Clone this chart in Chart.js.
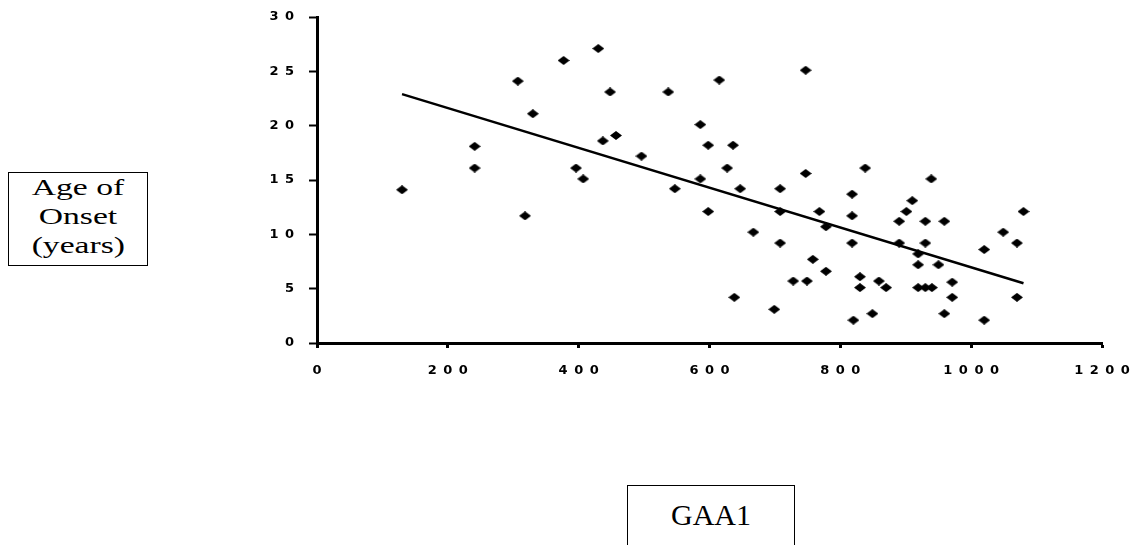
<!DOCTYPE html>
<html>
<head>
<meta charset="utf-8">
<script src="https://cdn.jsdelivr.net/npm/chart.js@4/dist/chart.umd.min.js"></script>
<style>
  body { margin: 0; background: #fff; }
  #wrap { position: relative; width: 1130px; height: 545px; overflow: hidden; }
  #chart { position: absolute; left: 0; top: 0; }
  .box {
    position: absolute; border: 1.5px solid #000; box-sizing: border-box;
    font-family: "Liberation Serif", "Times New Roman", serif; color: #000;
    text-align: center; background: #fff;
  }
  #ylab { left: 8px; top: 172px; width: 140px; height: 94px; font-size: 24px; line-height: 29px; padding-top: 0px; }
  #ylab span { display: inline-block; transform: scaleX(1.4); }
  #xlab { left: 627px; top: 485px; width: 168px; height: 70px; font-size: 30px; line-height: 34px; padding-top: 12px; }
</style>
</head>
<body>
<div id="wrap">
  <canvas id="chart" width="1130" height="545"></canvas>
  <div class="box" id="ylab"><span>Age of</span><br><span>Onset</span><br><span>(years)</span></div>
  <div class="box" id="xlab">GAA1</div>
</div>
<script>
// GAA1 repeat length vs age of onset
var gaa1 = [130, 241, 241, 307, 318, 330, 377, 396, 407, 430, 437, 448, 457, 496, 537, 547,
    586, 586, 598, 598, 615, 627, 636, 638, 647, 667, 699, 708, 708, 708, 728, 747, 747, 749,
    758, 768, 778, 778, 818, 818, 818, 820, 830, 830, 838, 849, 859, 870, 890, 890, 901, 910,
    919, 919, 919, 930, 930, 930, 939, 940, 950, 959, 959, 971, 971, 1020, 1020, 1049, 1070,
    1070, 1080];
var onset = [14.1, 18.1, 16.1, 24.1, 11.7, 21.1, 26, 16.1, 15.1, 27.1, 18.6, 23.1, 19.1, 17.2, 23.1, 14.2,
    20.1, 15.1, 18.2, 12.1, 24.2, 16.1, 18.2, 4.2, 14.2, 10.2, 3.1, 14.2, 12.1, 9.2, 5.7, 25.1, 15.6, 5.7,
    7.7, 12.1, 10.7, 6.6, 13.7, 11.7, 9.2, 2.1, 6.1, 5.1, 16.1, 2.7, 5.7, 5.1, 11.2, 9.2, 12.1, 13.1,
    8.2, 7.2, 5.1, 11.2, 9.2, 5.1, 15.1, 5.1, 7.2, 11.2, 2.7, 5.6, 4.2, 8.6, 2.1, 10.2, 9.2,
    4.2, 12.1];
// fitted trend line end points
var trendX = [130, 1080];
var trendY = [22.9, 5.5];
var xTicks = [0, 200, 400, 600, 800, 1000, 1200];
var yTicks = [0, 5, 10, 15, 20, 25, 30];

var pts = gaa1.map(function (x, i) { return { x: x, y: onset[i] }; });
var trend = trendX.map(function (x, i) { return { x: x, y: trendY[i] }; });

// flattened diamond marker
var mark = document.createElement('canvas');
mark.width = 12; mark.height = 9;
var mc = mark.getContext('2d');
mc.fillStyle = '#000';
mc.beginPath();
mc.moveTo(0, 4.5); mc.lineTo(6, 0); mc.lineTo(12, 4.5); mc.lineTo(6, 9);
mc.closePath(); mc.fill();

function spaced(v) {
    return String(v).split('').join('\u2002');
}

var ctx = document.getElementById('chart');
var chart = new Chart(ctx, {
    type: 'scatter',
    data: {
        datasets: [{
            label: 'Patients',
            data: pts,
            pointStyle: mark,
            pointRadius: 5,
            pointHoverRadius: 5
        }, {
            label: 'Trend',
            data: trend,
            showLine: true,
            borderColor: '#000',
            borderWidth: 2.5,
            pointRadius: 0,
            pointHoverRadius: 0
        }]
    },
    options: {
        responsive: false,
        animation: false,
        layout: { padding: { left: 0, top: 17, right: 28, bottom: 0 } },
        plugins: { legend: { display: false }, tooltip: { enabled: false } },
        scales: {
            x: {
                type: 'linear',
                min: 0, max: 1200,
                afterBuildTicks: function (s) { s.ticks = xTicks.map(function (v) { return { value: v }; }); },
                afterFit: function (s) { s.height = 202; s.paddingLeft = 0; s.paddingRight = 0; },
                border: { color: '#000', width: 3 },
                grid: { drawOnChartArea: false, drawTicks: true, tickLength: 5, tickColor: '#000', tickWidth: 3 },
                ticks: {
                    color: '#000', padding: 15, maxRotation: 0,
                    font: { family: 'DejaVu Sans', size: 13, weight: 'bold' },
                    callback: function (v) { return spaced(v); }
                }
            },
            y: {
                type: 'linear',
                min: 0, max: 30,
                afterBuildTicks: function (s) { s.ticks = yTicks.map(function (v) { return { value: v }; }); },
                afterFit: function (s) { s.width = 317; s.paddingTop = 0; s.paddingBottom = 0; },
                border: { color: '#000', width: 3 },
                grid: { drawOnChartArea: false, drawTicks: true, tickLength: 8, tickColor: '#000', tickWidth: 2 },
                ticks: {
                    color: '#000', padding: 15,
                    font: { family: 'DejaVu Sans', size: 13, weight: 'bold' },
                    callback: function (v) { return spaced(v); }
                }
            }
        }
    }
});
</script>
</body>
</html>
